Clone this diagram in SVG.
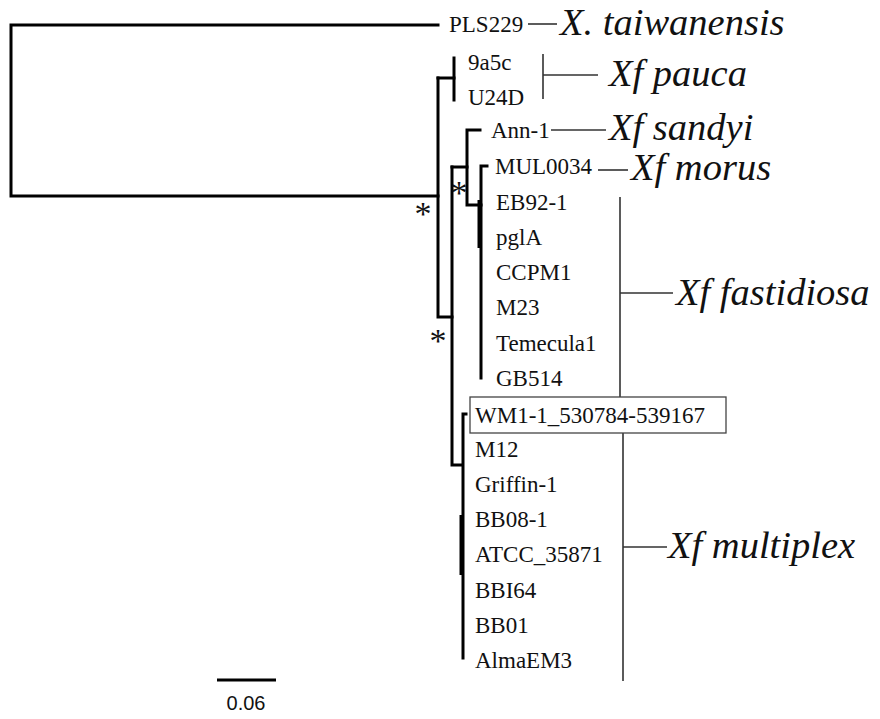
<svg xmlns="http://www.w3.org/2000/svg" width="880" height="719" viewBox="0 0 880 719">
  <style>
    .tip { font-family: "Liberation Serif", "Times New Roman", serif; font-size: 23px; fill: #111; }
    .clade { font-family: "Liberation Serif", "Times New Roman", serif; font-size: 38.5px; font-style: italic; fill: #111; }
    .star { font-family: "Liberation Serif", "Times New Roman", serif; font-size: 34px; fill: #111; text-anchor: middle; }
    .scale { font-family: "Liberation Sans", Arial, sans-serif; font-size: 20px; fill: #111; text-anchor: middle; }
    .br { fill: none; stroke: #000; stroke-width: 3; stroke-linecap: square; }
    .thick { fill: none; stroke: #000; stroke-width: 3; }
    .bk { fill: none; stroke: #333; stroke-width: 1.6; }
  </style>
  <rect width="880" height="719" fill="#fff"/>

  <!-- tree branches -->
  <g id="connectors">
    <path class="br" d="M438,25 H11 V196 H438"/>
    <path class="br" d="M438,78 V317 H452"/>
    <path class="br" d="M438,78 H454"/>
    <path class="br" d="M454,58 V100"/>
    <path class="br" d="M452,167 V465 H462"/>
    <path class="br" d="M452,167 H467"/>
    <path class="br" d="M480,130 H467 V205 H481"/>
    <path class="br" d="M487,166 H481 V378"/>
    <path class="thick" d="M479,200 V248"/>
    <path class="br" d="M466,414 H463 V658"/>
    <path class="thick" d="M461,515 V575"/>

    <!-- clade brackets and leader lines -->
    <path class="bk" d="M528,24 H557"/>
    <path class="bk" d="M543,54 V99 M543,75 H598"/>
    <path class="bk" d="M551,130 H606"/>
    <path class="bk" d="M598,170 H628"/>
    <path class="bk" d="M620,197 V397 M620,293 H673"/>
    <path class="bk" d="M623,433 V681 M623,547 H667"/>

    <!-- scale bar -->
    <path d="M217,680 H276" stroke="#000" stroke-width="3"/>
  </g>

  <!-- support marks -->
  <g id="supports">
    <text class="star" x="423" y="225">*</text>
    <text class="star" x="459" y="204">*</text>
    <text class="star" x="438" y="352">*</text>
  </g>

  <!-- tip labels -->
  <g id="PLS229"><text class="tip" x="449" y="32">PLS229</text></g>
  <g id="n9a5c"><text class="tip" x="468" y="70">9a5c</text></g>
  <g id="U24D"><text class="tip" x="468" y="105">U24D</text></g>
  <g id="Ann-1"><text class="tip" x="491" y="138">Ann-1</text></g>
  <g id="MUL0034"><text class="tip" x="495" y="174">MUL0034</text></g>
  <g id="EB92-1"><text class="tip" x="496" y="210">EB92-1</text></g>
  <g id="pglA"><text class="tip" x="496" y="245">pglA</text></g>
  <g id="CCPM1"><text class="tip" x="496" y="280">CCPM1</text></g>
  <g id="M23"><text class="tip" x="496" y="315">M23</text></g>
  <g id="Temecula1"><text class="tip" x="496" y="351">Temecula1</text></g>
  <g id="GB514"><text class="tip" x="496" y="386">GB514</text></g>
  <g id="WM1-1">
    <rect x="470" y="397" width="256" height="36" fill="#fff" stroke="#444" stroke-width="1.3"/>
    <text class="tip" x="475" y="423">WM1-1_530784-539167</text>
  </g>
  <g id="M12"><text class="tip" x="475" y="457">M12</text></g>
  <g id="Griffin-1"><text class="tip" x="475" y="492">Griffin-1</text></g>
  <g id="BB08-1"><text class="tip" x="475" y="527">BB08-1</text></g>
  <g id="ATCC_35871"><text class="tip" x="475" y="562">ATCC_35871</text></g>
  <g id="BBI64"><text class="tip" x="475" y="598">BBI64</text></g>
  <g id="BB01"><text class="tip" x="475" y="633">BB01</text></g>
  <g id="AlmaEM3"><text class="tip" x="475" y="668">AlmaEM3</text></g>

  <!-- taxon names -->
  <g id="taiwanensis"><text class="clade" x="560" y="35">X. taiwanensis</text></g>
  <g id="pauca"><text class="clade" x="609" y="86">Xf pauca</text></g>
  <g id="sandyi"><text class="clade" x="609" y="140">Xf sandyi</text></g>
  <g id="morus"><text class="clade" x="631" y="180">Xf morus</text></g>
  <g id="fastidiosa"><text class="clade" x="676" y="305">Xf fastidiosa</text></g>
  <g id="multiplex"><text class="clade" x="668" y="558">Xf multiplex</text></g>

  <g id="scalebar"><text class="scale" x="246" y="710">0.06</text></g>
</svg>
